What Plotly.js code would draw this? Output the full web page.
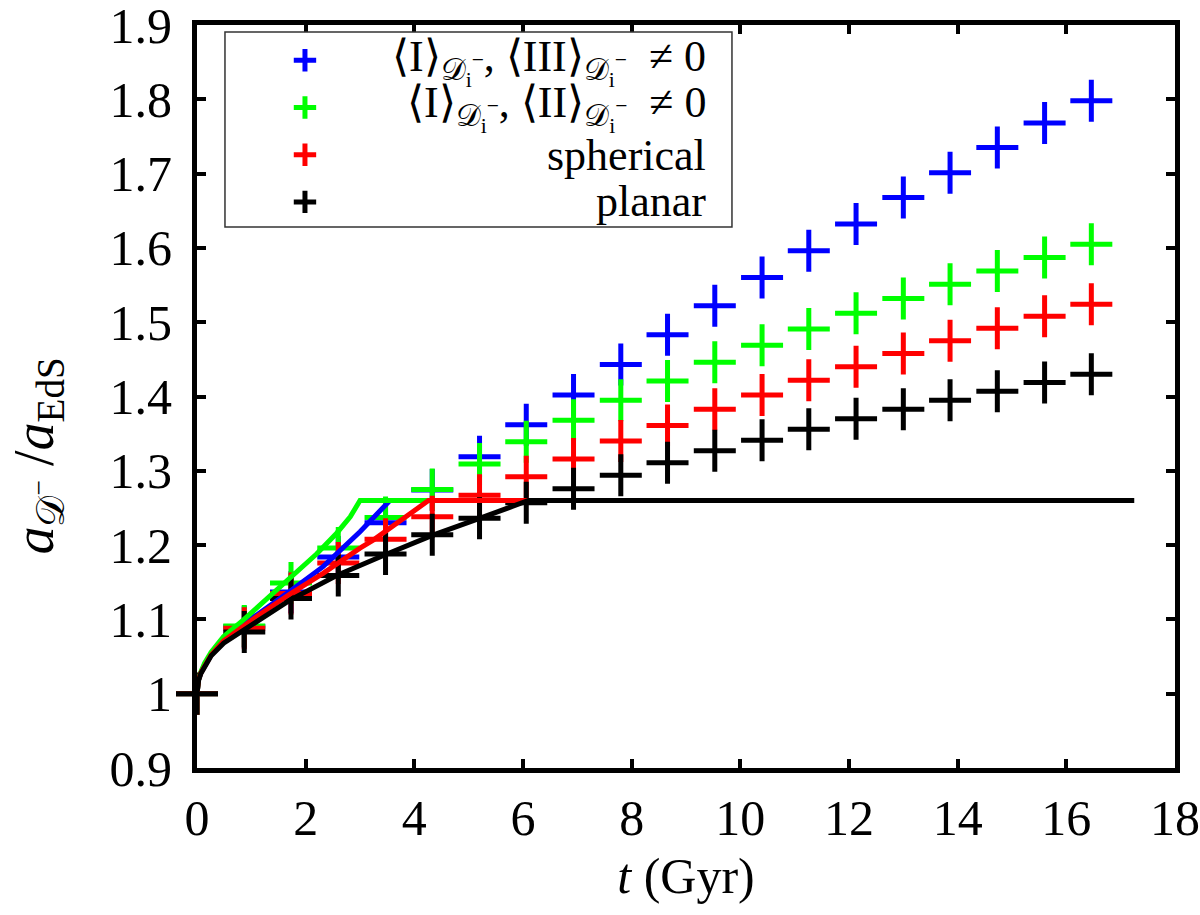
<!DOCTYPE html>
<html>
<head>
<meta charset="utf-8">
<script src="https://cdn.plot.ly/plotly-3.0.1.min.js"></script>
<style>
    body { margin: 0; background: #fff; }
    #chart { width: 1200px; height: 915px; }
</style>
</head>
<body>
<div id="chart"></div>
<script>
// tiempos de los puntos (Gyr)
var tPuntos = [0, 0.87, 1.73, 2.6, 3.47, 4.33, 5.2, 6.06, 6.93, 7.8, 8.66, 9.53, 10.4, 11.26, 12.13, 13.0, 13.86, 14.73, 15.6, 16.46]

var azulPuntos = [1, 1.090, 1.137, 1.184, 1.230, 1.274, 1.319, 1.362, 1.402, 1.443, 1.483, 1.522, 1.560, 1.596, 1.632, 1.668, 1.701, 1.735, 1.768, 1.798]
var verdePuntos = [1, 1.091, 1.149, 1.196, 1.237, 1.275, 1.309, 1.339, 1.368, 1.395, 1.421, 1.446, 1.469, 1.491, 1.512, 1.532, 1.551, 1.569, 1.587, 1.605]
var rojoPuntos = [1, 1.088, 1.135, 1.176, 1.208, 1.238, 1.267, 1.292, 1.316, 1.340, 1.361, 1.383, 1.402, 1.422, 1.440, 1.458, 1.475, 1.492, 1.508, 1.524]
var negroPuntos = [1, 1.083, 1.128, 1.159, 1.188, 1.214, 1.236, 1.257, 1.276, 1.294, 1.311, 1.327, 1.341, 1.356, 1.370, 1.383, 1.395, 1.407, 1.419, 1.430]

// curvas (solucion con colapso)
var azulCurvaT = [0, 0.01, 0.03, 0.07, 0.14, 0.26, 0.49, 0.85, 1.1, 1.71, 2.32, 3.0, 3.49, 3.55, 5.2]
var azulCurvaY = [1, 1.011, 1.019, 1.028, 1.039, 1.053, 1.073, 1.094, 1.106, 1.138, 1.171, 1.218, 1.254, 1.26, 1.26]
var verdeCurvaT = [0, 0.01, 0.03, 0.07, 0.14, 0.26, 0.49, 0.85, 1.71, 2.2, 2.57, 2.82, 3.0, 6.1]
var verdeCurvaY = [1, 1.011, 1.019, 1.029, 1.041, 1.056, 1.077, 1.099, 1.155, 1.188, 1.216, 1.238, 1.26, 1.26]
var rojoCurvaT = [0, 0.01, 0.03, 0.07, 0.14, 0.26, 0.49, 0.85, 1.1, 1.71, 2.32, 3.0, 3.25, 4.26, 8.66]
var rojoCurvaY = [1, 1.011, 1.019, 1.028, 1.038, 1.052, 1.071, 1.091, 1.104, 1.134, 1.162, 1.196, 1.207, 1.26, 1.26]
var negroCurvaT = [0, 0.01, 0.03, 0.07, 0.14, 0.26, 0.49, 0.82, 1.1, 1.71, 2.57, 3.43, 4.33, 5.2, 6.1, 17.25]
var negroCurvaY = [1, 1.010, 1.018, 1.027, 1.037, 1.051, 1.068, 1.083, 1.097, 1.126, 1.159, 1.186, 1.213, 1.236, 1.26, 1.26]

var nombres = [
    '⟨I⟩<sub>𝒟<sub>i</sub><sup>−</sup></sub>, ⟨III⟩<sub>𝒟<sub>i</sub><sup>−</sup></sub>  ≠ 0',
    '⟨I⟩<sub>𝒟<sub>i</sub><sup>−</sup></sub>, ⟨II⟩<sub>𝒟<sub>i</sub><sup>−</sup></sub>  ≠ 0',
    'spherical',
    'planar'
]
var colores = ['#0000ff', '#00ff00', '#ff0000', '#000000']

var fuente = "'Liberation Serif', 'Times New Roman', Times, serif"

function puntos(y, i) {
    return {
        x: tPuntos,
        y: y,
        mode: 'markers',
        type: 'scatter',
        name: ' ',
        marker: {
            symbol: 'cross-thin',
            size: 30,
            line: { width: 5, color: colores[i] },
            color: colores[i]
        },
        cliponaxis: false
    }
}

function curva(t, y, i) {
    return {
        x: t,
        y: y,
        mode: 'lines',
        type: 'scatter',
        showlegend: false,
        line: { width: 5, color: colores[i] },
        hoverinfo: 'skip'
    }
}

var data = [
    puntos(azulPuntos, 0),
    puntos(verdePuntos, 1),
    puntos(rojoPuntos, 2),
    puntos(negroPuntos, 3),
    curva(azulCurvaT, azulCurvaY, 0),
    curva(verdeCurvaT, verdeCurvaY, 1),
    curva(rojoCurvaT, rojoCurvaY, 2),
    curva(negroCurvaT, negroCurvaY, 3)
]

// textos de la leyenda, alineados a la derecha como en el original
var filasLeyenda = [0.950, 0.888, 0.825, 0.762]
var anotaciones = []
nombres.forEach((n, i) => {
    anotaciones.push({
        xref: 'paper', yref: 'paper',
        x: 0.5225, y: filasLeyenda[i],
        xanchor: 'right', yanchor: 'middle',
        text: n,
        showarrow: false,
        font: { family: fuente, size: 44, color: '#000' }
    })
});

// titulo del eje y (como anotacion para poder bajarlo un poco)
anotaciones.push({
    xref: 'paper', yref: 'paper',
    x: -0.163, y: 0.42,
    xanchor: 'center', yanchor: 'middle',
    textangle: -90,
    text: '<i>a</i><sub>𝒟<sup>−</sup></sub> /<i>a</i><sub>EdS</sub>',
    showarrow: false,
    font: { family: fuente, size: 56, color: '#000' }
})

// marco de la leyenda
var cajaLeyenda = {
    type: 'rect',
    xref: 'paper', yref: 'paper',
    x0: 0.0286, x1: 0.547,
    y0: 0.728, y1: 0.9906,
    line: { color: '#333', width: 1.5 },
    fillcolor: '#fff',
    layer: 'above'
}

var ejeComun = {
    showgrid: false,
    zeroline: false,
    showline: true,
    linewidth: 5,
    linecolor: '#000',
    mirror: 'ticks',
    ticks: 'inside',
    ticklen: 9,
    tickwidth: 4,
    tickcolor: '#000',
    ticklabeloverflow: 'allow',
    tickfont: { family: fuente, size: 50, color: '#000' }
}

var layout = {
    width: 1200,
    height: 915,
    margin: { l: 197, r: 25, t: 25, b: 147 },
    paper_bgcolor: '#fff',
    plot_bgcolor: '#fff',
    font: { family: fuente, color: '#000' },
    xaxis: Object.assign({}, ejeComun, {
        range: [0, 18],
        dtick: 2,
        tick0: 0,
        ticklabelstandoff: 2,
        title: { text: '<i>t</i> (Gyr)', font: { family: fuente, size: 50 }, standoff: 14 }
    }),
    yaxis: Object.assign({}, ejeComun, {
        range: [0.9, 1.9],
        dtick: 0.1,
        tick0: 0.9,
        ticklabelstandoff: 10
    }),
    legend: {
        x: 0.0286,
        y: 0.991,
        xanchor: 'left',
        yanchor: 'top',
        bgcolor: 'rgba(0,0,0,0)',
        borderwidth: 0,
        font: { family: fuente, size: 34, color: '#000' },
        itemsizing: 'trace',
        itemwidth: 150
    },
    shapes: [cajaLeyenda],
    annotations: anotaciones,
    showlegend: true
}

var options = {
    displayModeBar: false,
    staticPlot: true
}

Plotly.newPlot('chart', data, layout, options)
</script>
</body>
</html>
